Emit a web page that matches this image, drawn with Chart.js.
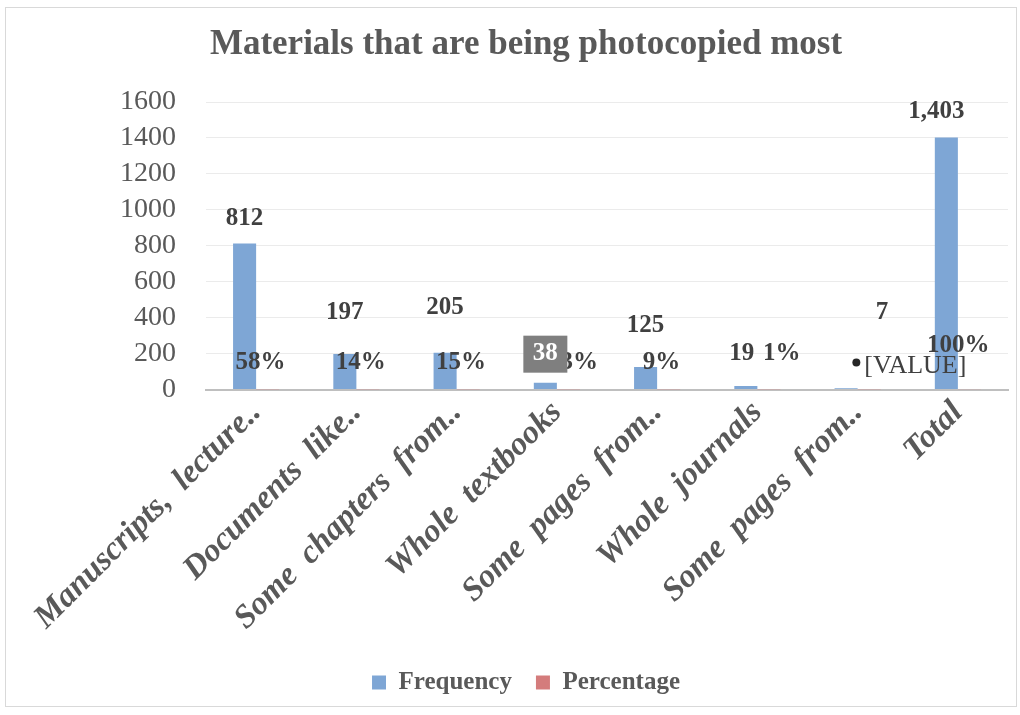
<!DOCTYPE html>
<html>
<head>
<meta charset="utf-8">
<title>Materials that are being photocopied most</title>
<script src="https://cdn.jsdelivr.net/npm/chart.js@4.4.0/dist/chart.umd.min.js"></script>
<style>
  html, body { margin: 0; padding: 0; background: #fff; }
  #wrap { position: relative; width: 1020px; height: 715px; }
  #frame { position: absolute; left: 5px; top: 7px; right: 3px; bottom: 8px; border: 1px solid #D9D9D9; pointer-events: none; }
</style>
</head>
<body>
<div id="wrap">
  <canvas id="chart" width="1020" height="715"></canvas>
  <div id="frame"></div>
</div>
<script>
'use strict';

// Categories (truncated as in the original)
const categories = [
  'Manuscripts,  lecture..',
  'Documents  like..',
  'Some  chapters  from..',
  'Whole  textbooks',
  'Some  pages  from..',
  'Whole  journals',
  'Some  pages  from..',
  'Total',
];

// Series values
const frequency  = [812, 197, 205, 38, 125, 19, 7, 1403];
const percentage = [0.58, 0.14, 0.15, 0.03, 0.09, 0.01, 0.005, 1.00];

// Percentage label texts (the 7th is a broken field in the source)
const percentText = ['58%', '14%', '15%', '3%', '9%', '1%', '[VALUE]', '100%'];

// Y axis ticks
const yTicks = [0, 200, 400, 600, 800, 1000, 1200, 1400, 1600];

// Label placement tweaks (pixels) – style only
const freqLift  = [25, 42, 45, 29, 41, 33, 76, 26];
const freqShift = [0, 0, 0, 0, 0, -4, 36, -10];
const pctLift   = [27, 27, 27, 27, 27, 36, 23, 44];
const pctShift  = [16, 16, 16, 34, 16, 36, 0, 12];
const boxedIndex = 3;

const SERIF = '"Liberation Serif", "Times New Roman", serif';

const barLabels = {
  id: 'barLabels',
  afterDatasetsDraw(chart) {
    const { ctx } = chart;
    const base = chart.scales.y.getPixelForValue(0);
    const fMeta = chart.getDatasetMeta(0);
    ctx.save();
    ctx.font = 'bold 25px ' + SERIF;
    ctx.textAlign = 'center';
    ctx.textBaseline = 'middle';

    fMeta.data.forEach((bar, i) => {
      const txt = frequency[i].toLocaleString('en-US');
      const x = bar.x + freqShift[i];
      const y = bar.y - freqLift[i];

      // percentage label for the same category
      const py = base - pctLift[i];
      const ptxt = percentText[i];
      if (ptxt === '[VALUE]') {
        ctx.font = '26px ' + SERIF;
        ctx.textAlign = 'left';
        const px = fMeta.data[i + 1].x - 90;
        ctx.fillStyle = '#404040';
        ctx.fillText(ptxt, px + 8, py);
        ctx.beginPath();
        ctx.arc(px, py - 4, 4, 0, Math.PI * 2);
        ctx.fillStyle = '#262626';
        ctx.fill();
        ctx.font = 'bold 25px ' + SERIF;
        ctx.textAlign = 'center';
      } else {
        ctx.fillStyle = '#404040';
        ctx.fillText(ptxt, bar.x + pctShift[i], py);
      }

      if (i === boxedIndex) {
        ctx.fillStyle = '#7F7F7F';
        ctx.fillRect(x - 22, y - 18, 44, 37);
        ctx.fillStyle = '#FFFFFF';
      } else {
        ctx.fillStyle = '#404040';
      }
      ctx.fillText(txt, x, y);
    });
    ctx.restore();
  },
};

const ctx = document.getElementById('chart').getContext('2d');
new Chart(ctx, {
  type: 'bar',
  data: {
    labels: categories,
    datasets: [
      {
        label: 'Frequency',
        data: frequency,
        backgroundColor: '#7EA6D5',
        categoryPercentage: 0.46,
        barPercentage: 1.0,
      },
      {
        label: 'Percentage',
        data: percentage,
        backgroundColor: '#D47C7C',
        categoryPercentage: 0.46,
        barPercentage: 1.0,
      },
    ],
  },
  options: {
    responsive: false,
    animation: false,
    devicePixelRatio: 1,
    layout: { padding: { left: 44, right: 12, top: 10, bottom: 10 } },
    plugins: {
      title: {
        display: true,
        text: 'Materials that are being photocopied most',
        color: '#595959',
        font: { family: SERIF, size: 35, weight: 'bold' },
        padding: { top: 14, bottom: 36 },
      },
      legend: {
        position: 'bottom',
        labels: {
          color: '#595959',
          font: { family: SERIF, size: 25, weight: 'bold' },
          boxWidth: 14,
          boxHeight: 14,
          padding: 24,
        },
      },
      tooltip: { enabled: false },
    },
    scales: {
      x: {
        grid: { display: false, drawTicks: false },
        border: { color: '#BFBFBF', width: 2 },
        ticks: {
          color: '#595959',
          font: { family: SERIF, size: 33, weight: 'bold', style: 'italic' },
          maxRotation: 45,
          minRotation: 45,
          autoSkip: false,
          padding: 4,
        },
        afterFit: (axis) => { axis.height += 4; },
      },
      y: {
        min: 0,
        max: 1600,
        afterBuildTicks: (axis) => { axis.ticks = yTicks.map(v => ({ value: v })); },
        afterFit: (axis) => { axis.width += 46; },
        grid: { color: '#EBEBEB', drawTicks: false },
        border: { display: false },
        ticks: {
          color: '#595959',
          font: { family: SERIF, size: 28 },
          padding: 30,
          autoSkip: false,
          callback: (v) => String(v),
        },
      },
    },
  },
  plugins: [barLabels],
});
</script>
</body>
</html>
